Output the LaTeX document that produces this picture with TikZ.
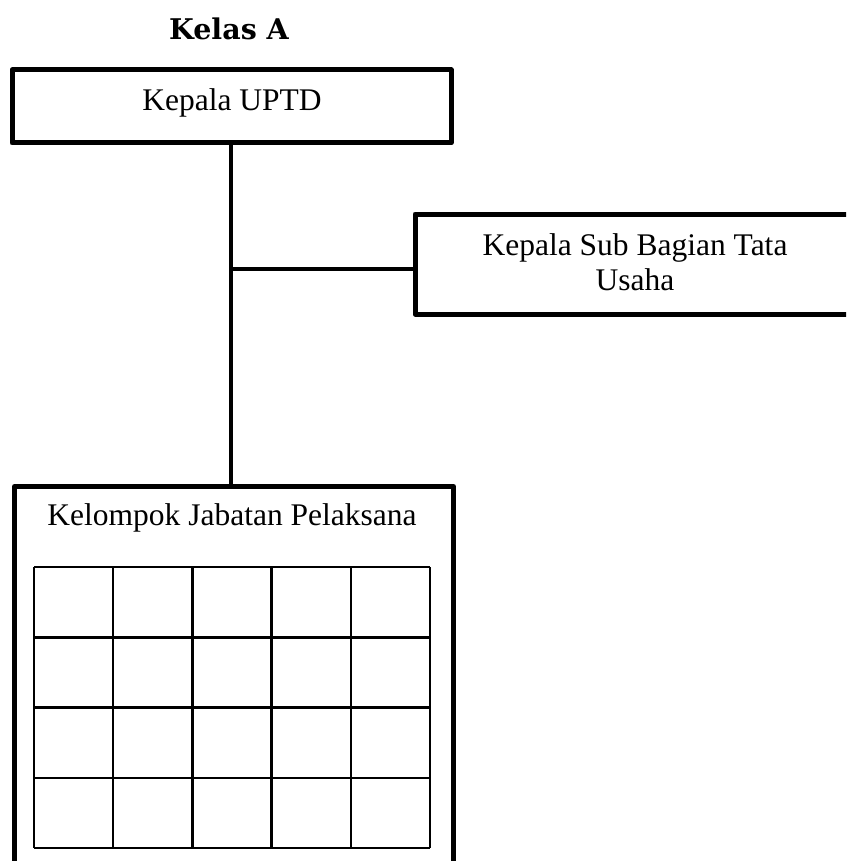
\documentclass[tikz,border=0pt]{standalone}
\usepackage{fontspec}
\setmainfont{Liberation Serif}
\newfontfamily\titlefont{DejaVu Serif}
\begin{document}
\begin{tikzpicture}[x=1pt,y=1pt,
  unitbox/.style={draw=black, line width=5pt, line join=round, fill=white,
    rectangle, inner sep=0pt, font=\fontsize{31.5}{35}\selectfont, align=center},
  link/.style={draw=black, line width=4.8pt},
  cellgrid/.style={draw=black, line width=2.5pt},
  lbl/.style={inner sep=0pt, font=\fontsize{31.5}{35}\selectfont}]
\useasboundingbox (0,0) rectangle (846,-861);
\clip (0,0) rectangle (846,-861);

% heading
\node[inner sep=0pt, anchor=base, font=\titlefont\bfseries\fontsize{28.5}{32}\selectfont]
  (title) at (229,-40) {Kelas A};

% boxes
\node[unitbox, minimum width=439pt, minimum height=73pt] (head) at (231.5,-106.5) {};
\node[lbl, anchor=base] (headtxt) at (232,-111) {Kepala UPTD};

\node[unitbox, minimum width=436pt, minimum height=100pt] (sub) at (633,-264) {};
\node[lbl, anchor=base] (subtxt1) at (635,-255) {Kepala Sub Bagian Tata};
\node[lbl, anchor=base] (subtxt2) at (635,-290) {Usaha};

\node[unitbox, minimum width=439pt, minimum height=420pt, anchor=north west]
  (staff) at (12,-484) {};
\node[lbl, anchor=base] (stafftxt) at (232,-525) {Kelompok Jabatan Pelaksana};

% connectors
\coordinate (branch) at (231,-269);
\draw[link] (head.south -| branch) -- (branch) -- (staff.north -| branch);
\draw[link] (branch) -- (sub.west |- branch);

% table of cells inside the staff box
\foreach \x in {34,113.2,192.4,271.6,350.8,430}
  \draw[cellgrid] (\x,-567) -- (\x,-848);
\foreach \y in {567,637.25,707.5,777.75,848}
  \draw[cellgrid] (34,-\y) -- (430,-\y);
\end{tikzpicture}
\end{document}
